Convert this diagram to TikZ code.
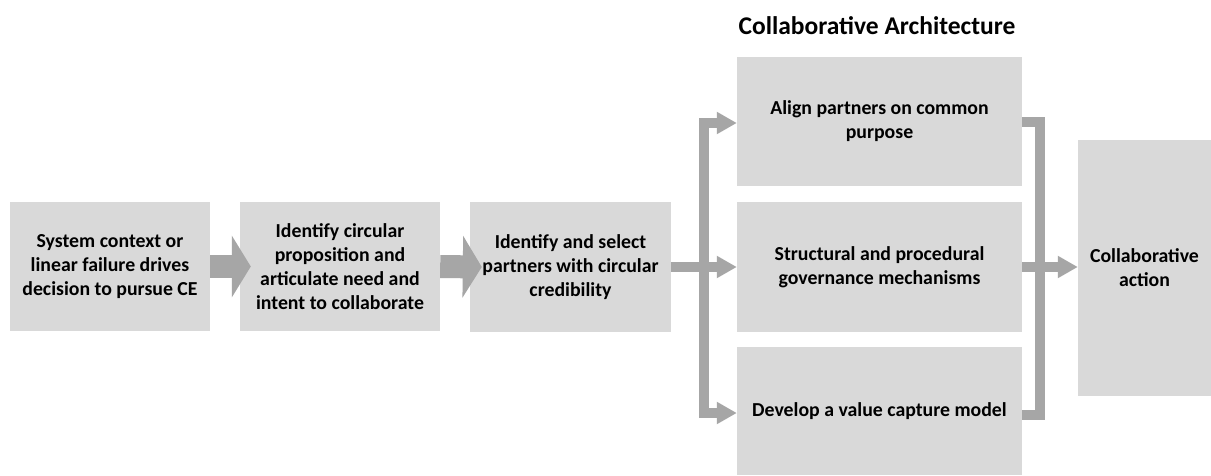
\documentclass[tikz,border=0pt]{standalone}
\usepackage{fontspec}
\setmainfont{Carlito}
\usetikzlibrary{arrows.meta}
\definecolor{boxgray}{HTML}{D9D9D9}
\definecolor{arrowgray}{HTML}{A6A6A6}
\tikzset{
  box/.style={draw=none, fill=boxgray, rectangle, inner sep=0pt, align=center,
    font=\bfseries\fontsize{19.8}{24}\selectfont, text=black},
  bigarrow/.style={draw=arrowgray, line width=23pt, -{Triangle[width=61pt,length=19pt]}},
  bar/.style={draw=arrowgray, line width=10pt, line join=miter},
  bararrow/.style={draw=arrowgray, line width=10pt, -{Triangle[width=21pt,length=20pt]}},
  titletext/.style={font=\bfseries\fontsize{25.5}{30}\selectfont, text=black, inner sep=0pt}
}
\begin{document}
\begin{tikzpicture}[x=1pt,y=-1pt]
\useasboundingbox[fill=white] (0,0) rectangle (1211,475);
% boxes
\node[box, minimum width=200pt, minimum height=129pt] (b1) at (110,266.5)
  {System context or\\linear failure drives\\decision to pursue CE};
\node[box, minimum width=200pt, minimum height=129pt] (b2) at (340,266.5)
  {Identify circular\\proposition and\\articulate need and\\intent to collaborate};
\node[box, minimum width=201pt, minimum height=130pt] (b3) at (570.5,267)
  {Identify and select\\partners with circular\\credibility};
\node[box, minimum width=285pt, minimum height=129pt] (A) at (879.5,121.5)
  {Align partners on common\\purpose};
\node[box, minimum width=285pt, minimum height=130pt] (S) at (879.5,267)
  {Structural and procedural\\governance mechanisms};
\node[box, minimum width=285pt, minimum height=128pt] (D) at (879.5,411)
  {Develop a value capture model};
\node[box, minimum width=133pt, minimum height=256pt] (CA) at (1144.5,268)
  {Collaborative\\action};
\node[titletext] (title) at (877,26) {Collaborative Architecture};
% big arrows
\draw[bigarrow] (b1.east) -- ([xshift=11pt]b2.west);
\draw[bigarrow] (b2.east) -- ([xshift=12pt]b3.west);
% left bracket
\coordinate (jL) at (704,267);
\coordinate (jLtop) at (704,123);
\coordinate (jLbot) at (704,413);
\draw[bar] (b3.east) -- (jL);
\draw[bar, line cap=rect] (jLtop) -- (jLbot);
\draw[bararrow] (jLtop) -- (jLtop -| A.west);
\draw[bararrow] (jL) -- (jL -| S.west);
\draw[bararrow] (jLbot) -- (jLbot -| D.west);
% right bracket
\coordinate (jRtop) at (1040,122);
\coordinate (jRbot) at (1040,415);
\draw[bar] (jRtop -| A.east) -- (jRtop) -- (jRbot) -- (jRbot -| D.east);
\draw[bararrow] (S.east) -- (S.east -| CA.west);
\end{tikzpicture}
\end{document}
